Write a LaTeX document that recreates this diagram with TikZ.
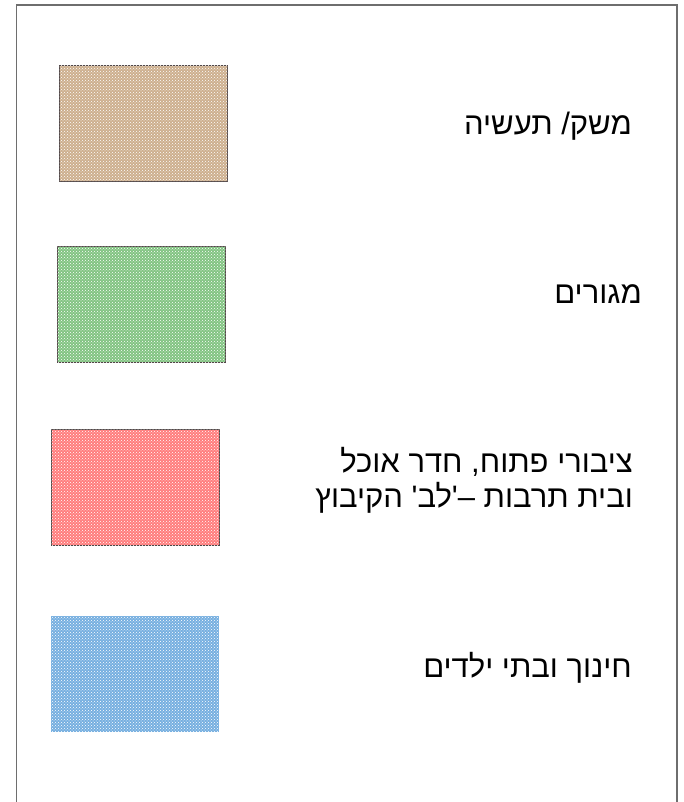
\documentclass[tikz,border=0pt]{standalone}
\usepackage{fontspec}
\usepackage{tikz}
\usetikzlibrary{positioning, patterns}
\TeXXeTstate=1
\newfontfamily\hebfont[Script=Hebrew]{Liberation Sans}
\definecolor{frameline}{RGB}{110,110,110}
\definecolor{boxline}{RGB}{80,70,70}
\definecolor{mybrown}{RGB}{205,175,142}
\definecolor{mygreen}{RGB}{130,196,130}
\definecolor{myred}{RGB}{255,125,125}
\definecolor{myblue}{RGB}{118,175,224}
\tikzset{
  legbox/.style={rectangle,draw=boxline,line width=0.9pt,minimum width=168pt,
    minimum height=116pt,inner sep=0pt,anchor=north west},
  legtext/.style={anchor=base east,inner sep=0pt,font=\hebfont\fontsize{31}{35}\selectfont,
    text=black},
  texture/.style={pattern=crosshatch dots,pattern color=white}
}

\begin{document}
\begin{tikzpicture}[x=1pt,y=-1pt]
  \useasboundingbox (0,0) rectangle (683,802);

  % Frame (open at the bottom)
  \draw[line width=1.5pt, color=frameline] (16.5,802) -- (16.5,5) -- (677,5) -- (677,802);

  % Industry
  \node[legbox, fill=mybrown] (brownbox) at (59,65) {};
  \fill[texture] (brownbox.north west) rectangle (brownbox.south east);
  \node[legtext] (browntext) at (632,135) {\beginR משק/ תעשיה\endR};

  % Housing
  \node[legbox, fill=mygreen] (greenbox) at (57,246) {};
  \fill[texture] (greenbox.north west) rectangle (greenbox.south east);
  \node[legtext] (greentext) at (642,303) {\beginR מגורים\endR};

  % Public area
  \node[legbox, fill=myred] (redbox) at (51,429) {};
  \fill[texture] (redbox.north west) rectangle (redbox.south east);
  \node[legtext] (redtexta) at (633,472) {\beginR ציבורי פתוח, חדר אוכל\endR};
  \node[legtext] (redtextb) at (633,507) {\beginR ובית תרבות –'לב' הקיבוץ\endR};

  % Education
  \node[legbox, fill=myblue, draw=none] (bluebox) at (51,616) {};
  \fill[texture] (bluebox.north west) rectangle (bluebox.south east);
  \node[legtext] (bluetext) at (632,677) {\beginR חינוך ובתי ילדים\endR};
\end{tikzpicture}
\end{document}
